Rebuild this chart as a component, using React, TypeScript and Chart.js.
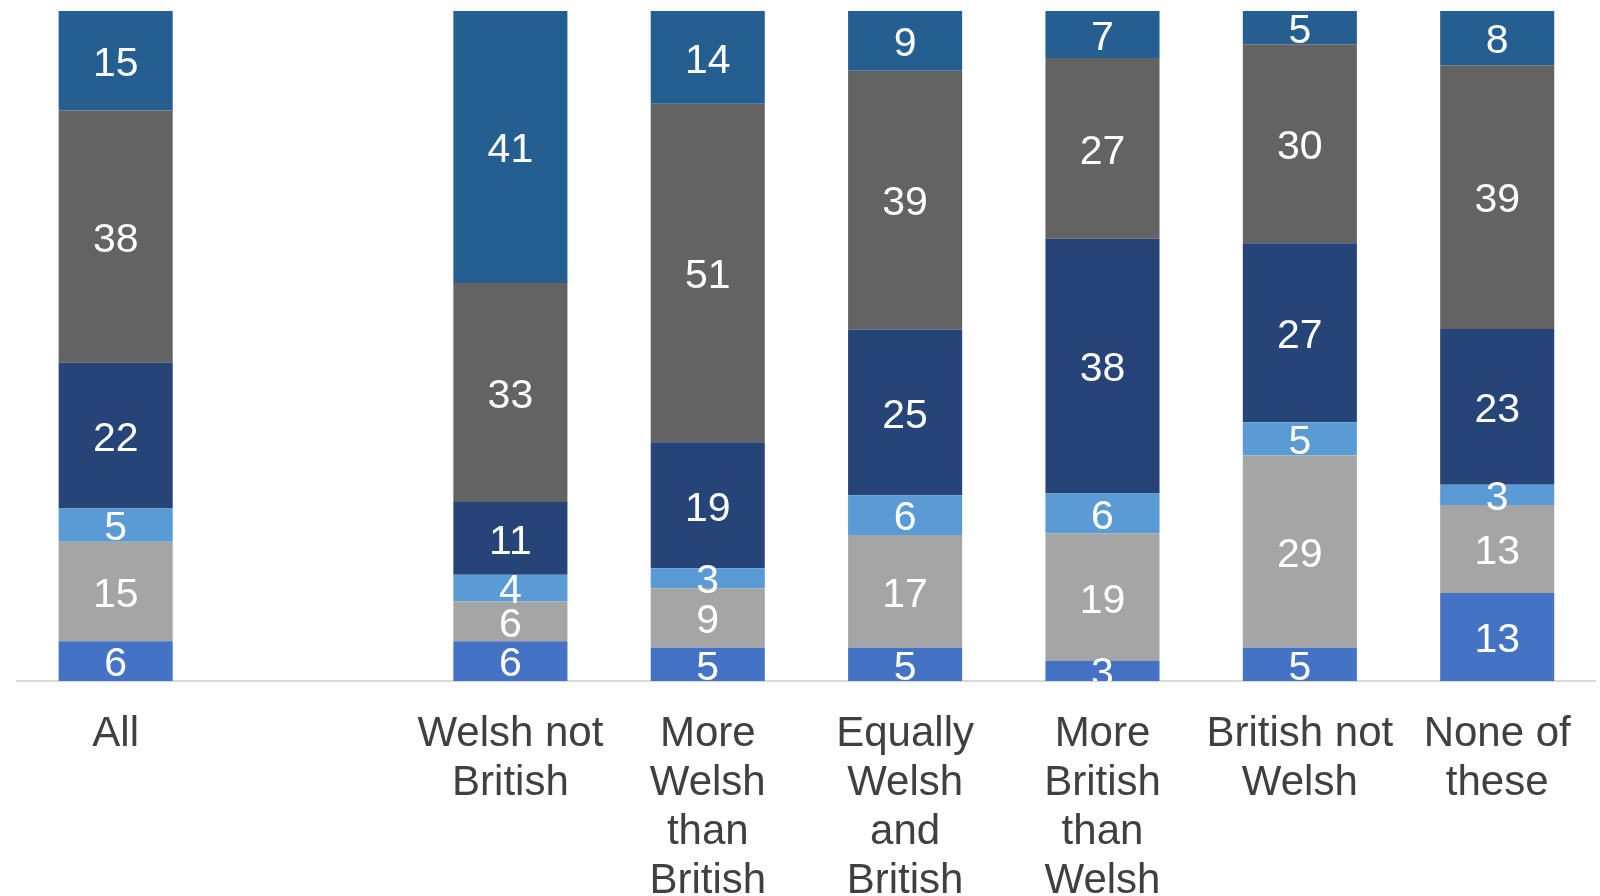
import React, { useEffect, useRef } from "react";
import { Chart, registerables } from "chart.js";

Chart.register(...registerables);

const categories: string[][] = [
  ["All"],
  [""],
  ["Welsh not", "British"],
  ["More", "Welsh", "than", "British"],
  ["Equally", "Welsh", "and", "British"],
  ["More", "British", "than", "Welsh"],
  ["British not", "Welsh"],
  ["None of", "these"],
];

const seriesA = [6, null, 6, 5, 5, 3, 5, 13];
const seriesB = [15, null, 6, 9, 17, 19, 29, 13];
const seriesC = [5, null, 4, 3, 6, 6, 5, 3];
const seriesD = [22, null, 11, 19, 25, 38, 27, 23];
const seriesE = [38, null, 33, 51, 39, 27, 30, 39];
const seriesF = [15, null, 41, 14, 9, 7, 5, 8];

const seriesList: (number | null)[][] = [seriesA, seriesB, seriesC, seriesD, seriesE, seriesF];
const seriesColors = ["#4472C4", "#A5A5A5", "#5B9BD5", "#264478", "#636363", "#255E91"];

const FONT = '"Liberation Sans", Arial, sans-serif';

const totals = categories.map((_, j) =>
  seriesList.reduce((s, arr) => s + (arr[j] ?? 0), 0)
);

const segLabels = {
  id: "segLabels",
  afterDatasetsDraw(chart: any) {
    const ctx = chart.ctx;
    const a = chart.chartArea;
    ctx.save();
    ctx.beginPath();
    ctx.rect(a.left, a.top, a.right - a.left, a.bottom - a.top);
    ctx.clip();
    ctx.font = `41px ${FONT}`;
    ctx.fillStyle = "#FFFFFF";
    ctx.textAlign = "center";
    ctx.textBaseline = "middle";
    chart.data.datasets.forEach((ds: any, i: number) => {
      const meta = chart.getDatasetMeta(i);
      meta.data.forEach((el: any, j: number) => {
        const raw = seriesList[i][j];
        if (raw == null) return;
        const p = el.getProps(["x", "y", "base"], true);
        ctx.fillText(String(raw), p.x, (p.y + p.base) / 2 + 4);
      });
    });
    ctx.restore();
  },
};

export default function App() {
  const ref = useRef<HTMLCanvasElement | null>(null);

  useEffect(() => {
    if (!ref.current) return;
    const chart = new Chart(ref.current, {
      type: "bar",
      data: {
        labels: categories,
        datasets: seriesList.map((arr, i) => ({
          label: `Series ${i + 1}`,
          data: arr.map((v, j) => (v == null ? null : (v / totals[j]) * 100)),
          backgroundColor: seriesColors[i],
          borderWidth: 0,
          categoryPercentage: 1,
          barPercentage: 0.578,
        })),
      },
      options: {
        animation: false,
        responsive: false,
        maintainAspectRatio: false,
        layout: { padding: { left: 17, right: 4, top: 11, bottom: 0 } },
        plugins: {
          legend: { display: false },
          tooltip: { enabled: false },
        },
        scales: {
          x: {
            stacked: true,
            grid: { display: false, drawTicks: false },
            border: { display: true, color: "#D9D9D9", width: 2 },
            ticks: {
              color: "#404040",
              font: { family: FONT, size: 42, lineHeight: "49px" },
              padding: 29,
              maxRotation: 0,
              autoSkip: false,
            },
            afterFit: (scale: any) => {
              scale.height = 215;
            },
          },
          y: {
            stacked: true,
            display: false,
            min: 0,
            max: 100,
          },
        },
      },
      plugins: [segLabels],
    });
    return () => chart.destroy();
  }, []);

  return (
    <div style={{ position: "fixed", left: 0, top: 0, width: 1600, height: 896, background: "#FFFFFF" }}>
      <canvas ref={ref} width={1600} height={896} style={{ width: 1600, height: 896 }} />
    </div>
  );
}
